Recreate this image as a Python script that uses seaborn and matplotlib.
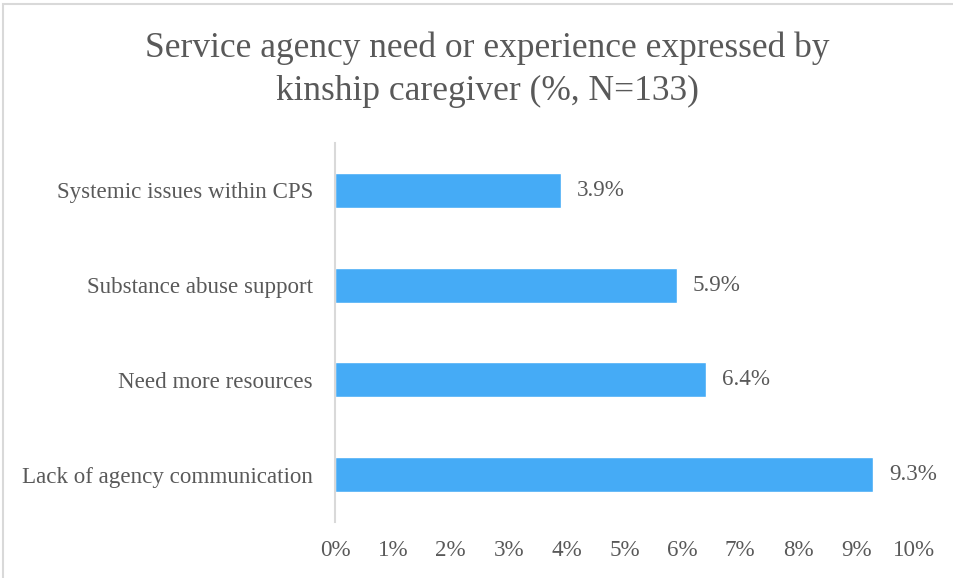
import matplotlib
matplotlib.use("Agg")
import matplotlib.pyplot as plt
import seaborn as sns
import pandas as pd
from matplotlib.patches import Rectangle

categories = ["Systemic issues within CPS", "Substance abuse support",
              "Need more resources", "Lack of agency communication"]
values = [3.9, 5.9, 6.4, 9.3]
xticks = [0, 1, 2, 3, 4, 5, 6, 7, 8, 9, 10]
title = "Service agency need or experience expressed by\nkinship caregiver (%, N=133)"

df = pd.DataFrame({"category": categories, "value": values})

sns.set_theme(style="white")
plt.rcParams["font.family"] = ["Liberation Serif", "DejaVu Serif"]

text_color = "#595959"
bar_color = "#45ABF6"
fs = 16.6

fig = plt.figure(figsize=(9.54, 5.78), dpi=100)
ax = fig.add_axes([335/954, 1 - 522/578, (914-335)/954, (522-143)/578])

sns.barplot(data=df, x="value", y="category", orient="h", color=bar_color,
            width=0.37, saturation=1, ax=ax, order=categories)

ax.set_xlim(0, 10)
ax.set_ylim(3.5, -0.5)
ax.set_xticks(xticks)
ax.set_xticklabels([f"{t}%" for t in xticks], fontsize=fs, color=text_color)
ax.tick_params(axis="x", length=0, pad=13)
ax.tick_params(axis="y", length=0, pad=16)
for lbl in ax.get_yticklabels():
    lbl.set_fontsize(fs)
    lbl.set_color(text_color)
ax.set_xlabel("")
ax.set_ylabel("")

for s in ["top", "right", "bottom"]:
    ax.spines[s].set_visible(False)
ax.spines["left"].set_color("#D9D9D9")
ax.spines["left"].set_linewidth(1.5)

for p, v in zip(ax.patches, values):
    ax.text(p.get_width() + 0.28, p.get_y() + p.get_height() / 2, f"{v}%",
            va="center", ha="left", fontsize=fs, color=text_color)

fig.text(487/954, 1 - 70/578, title, ha="center", va="center",
         fontsize=25.5, color=text_color, linespacing=1.38)

fig.patches.append(Rectangle((3.5/954, -0.1), 1.2, 1 - 4.5/578 + 0.1,
                             transform=fig.transFigure, fill=False,
                             edgecolor="#D9D9D9", linewidth=1.5))

fig.savefig("out.png", dpi=100)
